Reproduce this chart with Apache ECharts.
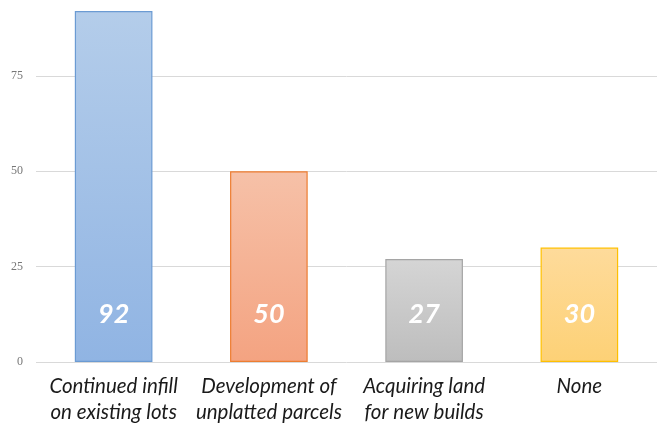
<!DOCTYPE html>
<html>
<head>
<meta charset="utf-8">
<script src="https://cdn.jsdelivr.net/npm/echarts@6/dist/echarts.min.js"></script>
<style>
    html, body {margin: 0; padding: 0; background: #fff; overflow: hidden;}
    #main {width: 657px; height: 425px;}
</style>
</head>
<body>
<div id="main"></div>
<script>
var categories = ['Continued infill\non existing lots', 'Development of\nunplatted parcels', 'Acquiring land\nfor new builds', 'None'];
var values = [92, 50, 27, 30];
var yTicks = [0, 25, 50, 75];

// fill gradient (top, bottom) and border per bar
var barColors = [
    ['#b4cdea', '#90b4e3', '#6b9bd3'],
    ['#f6c1a8', '#f4a381', '#ed7d31'],
    ['#d5d5d5', '#bdbdbd', '#a5a5a5'],
    ['#fedb9b', '#fdd176', '#ffc000']
];

var chart = echarts.init(document.getElementById('main'));
chart.setOption({
    animation: false,
    grid: {left: 36, width: 628, top: 11, bottom: 61},
    xAxis: {
        type: 'category',
        data: categories,
        axisLine: {show: false},
        axisTick: {show: false},
        axisLabel: {
            interval: 0,
            margin: 11,
            color: '#1a1a1a',
            fontFamily: 'Lato',
            fontStyle: 'italic',
            fontSize: 20.5,
            lineHeight: 26
        }
    },
    yAxis: {
        type: 'value',
        min: 0,
        max: 92,
        interval: 25,
        axisLine: {show: false},
        axisTick: {show: false},
        axisLabel: {
            margin: 13,
            showMaxLabel: false,
            color: '#777',
            fontFamily: 'Liberation Serif',
            fontSize: 12,
            formatter: function (v) {
                return yTicks.indexOf(v) >= 0 ? v : '';
            }
        },
        splitLine: {showMaxLine: false, lineStyle: {color: '#d9d9d9', width: 1}}
    },
    series: [{
        type: 'bar',
        barWidth: '50%',
        data: values.map(function (v, i) {
            return {
                value: v,
                itemStyle: {
                    color: new echarts.graphic.LinearGradient(0, 0, 0, 1, [
                        {offset: 0, color: barColors[i][0]},
                        {offset: 1, color: barColors[i][1]}
                    ]),
                    borderColor: barColors[i][2],
                    borderWidth: 1.2
                }
            };
        }),
        label: {
            show: true,
            position: 'insideBottom',
            distance: 34,
            color: '#fff',
            fontFamily: 'Lato',
            fontStyle: 'italic',
            fontWeight: 'bold',
            fontSize: 27
        }
    }]
});
</script>
</body>
</html>
